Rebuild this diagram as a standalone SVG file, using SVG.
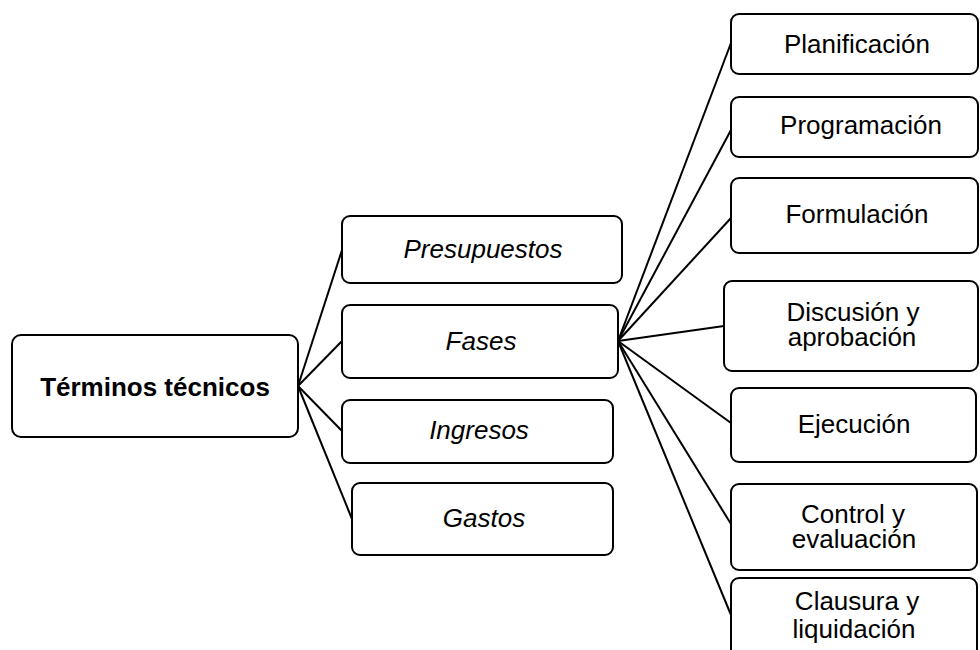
<svg xmlns="http://www.w3.org/2000/svg" width="980" height="650" viewBox="0 0 980 650">
<style>
.box{fill:#fff;stroke:#000;stroke-width:2}
.ln{stroke:#000;stroke-width:2;fill:none}
text{font-family:"Liberation Sans",Arial,sans-serif;font-size:26px;fill:#000;text-anchor:middle}
.b{font-weight:bold}
.i{font-style:italic}
</style>
<rect width="980" height="650" fill="#fff"/>
<g id="connectors">
<line class="ln" x1="298" y1="386" x2="342" y2="250"/>
<line class="ln" x1="298" y1="386" x2="342" y2="341"/>
<line class="ln" x1="298" y1="386" x2="342" y2="431"/>
<line class="ln" x1="298" y1="386" x2="352" y2="519"/>
<line class="ln" x1="618" y1="341" x2="731" y2="43"/>
<line class="ln" x1="618" y1="341" x2="731" y2="130"/>
<line class="ln" x1="618" y1="341" x2="731" y2="218"/>
<line class="ln" x1="618" y1="341" x2="724" y2="326"/>
<line class="ln" x1="618" y1="341" x2="731" y2="423"/>
<line class="ln" x1="618" y1="341" x2="731" y2="524"/>
<line class="ln" x1="618" y1="341" x2="731" y2="615"/>
</g>
<g id="root"><rect class="box" x="12" y="335" width="286" height="102" rx="9"/><text class="b" x="155" y="396">Términos técnicos</text></g>
<g id="presupuestos"><rect class="box" x="342" y="216" width="280" height="67" rx="8"/><text class="i" x="483" y="258">Presupuestos</text></g>
<g id="fases"><rect class="box" x="342" y="305" width="276" height="73" rx="8"/><text class="i" x="481" y="350">Fases</text></g>
<g id="ingresos"><rect class="box" x="342" y="400" width="271" height="63" rx="8"/><text class="i" x="479" y="439">Ingresos</text></g>
<g id="gastos"><rect class="box" x="352" y="483" width="261" height="72" rx="8"/><text class="i" x="484" y="527">Gastos</text></g>
<g id="planificacion"><rect class="box" x="731" y="14" width="247" height="60" rx="8"/><text x="857" y="53">Planificación</text></g>
<g id="programacion"><rect class="box" x="731" y="97" width="247" height="60" rx="8"/><text x="861" y="134">Programación</text></g>
<g id="formulacion"><rect class="box" x="731" y="178" width="247" height="75" rx="8"/><text x="857" y="223">Formulación</text></g>
<g id="discusion"><rect class="box" x="724" y="281" width="254" height="90" rx="8"/><text x="853" y="321">Discusión y</text><text x="852" y="346">aprobación</text></g>
<g id="ejecucion"><rect class="box" x="731" y="388" width="245" height="74" rx="8"/><text x="854" y="433">Ejecución</text></g>
<g id="control"><rect class="box" x="731" y="484" width="246" height="86" rx="8"/><text x="853" y="523">Control y</text><text x="854" y="548">evaluación</text></g>
<g id="clausura"><rect class="box" x="731" y="578" width="246" height="90" rx="8"/><text x="857" y="610">Clausura y</text><text x="854" y="638">liquidación</text></g>
</svg>
